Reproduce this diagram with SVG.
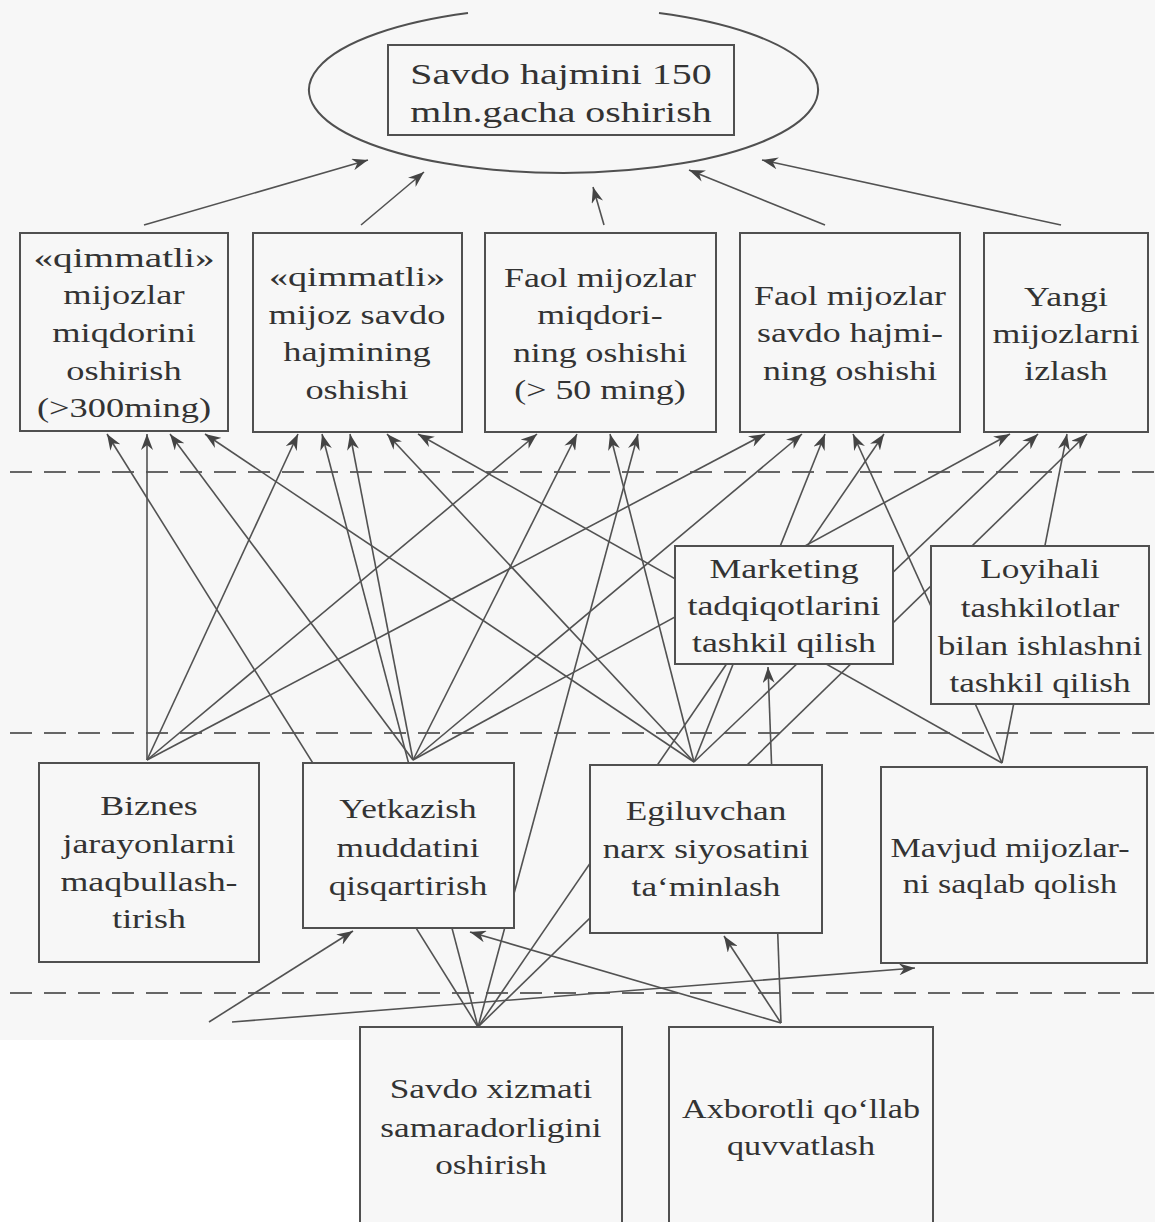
<svg xmlns="http://www.w3.org/2000/svg" width="1155" height="1222" viewBox="0 0 1155 1222">
  <style>
    .box { fill: #f7f7f7; stroke: #505050; stroke-width: 2; }
    .lbl { font-family: "Liberation Serif", "Times New Roman", serif; font-size: 28px; fill: #333333; text-anchor: middle; }
    .ttl { font-size: 30px; }
    .edge { stroke: #525252; stroke-width: 1.6; fill: none; marker-end: url(#arr); }
    .sep { stroke: #666; stroke-width: 2; stroke-dasharray: 22 12; fill: none; }
  </style>
  <defs>
    <marker id="arr" markerUnits="userSpaceOnUse" markerWidth="18" markerHeight="12" refX="16" refY="6" orient="auto">
      <path d="M0,0 L16,6 L0,12 L5,6 Z" fill="#444"/>
    </marker>
  </defs>

  <rect width="1155" height="1222" fill="#f7f7f7"/>
  <rect x="0" y="1040" width="360" height="182" fill="#ffffff"/>

  <!-- level separators -->
  <g id="separators">
    <line class="sep" x1="10" y1="472" x2="1155" y2="472"/>
    <line class="sep" x1="10" y1="733" x2="1155" y2="733"/>
    <line class="sep" x1="10" y1="993" x2="1155" y2="993"/>
  </g>

  <!-- connectors -->
  <g id="connectors">
    <!-- to the goal -->
    <line class="edge" x1="144" y1="225" x2="368" y2="160"/>
    <line class="edge" x1="361" y1="225" x2="424" y2="172"/>
    <line class="edge" x1="604" y1="225" x2="593" y2="187"/>
    <line class="edge" x1="825" y1="225" x2="689" y2="170"/>
    <line class="edge" x1="1061" y1="225" x2="762" y2="160"/>
    <!-- from Biznes jarayonlari -->
    <line class="edge" x1="147" y1="760" x2="147" y2="434"/>
    <line class="edge" x1="147" y1="760" x2="298" y2="434"/>
    <line class="edge" x1="147" y1="760" x2="537" y2="434"/>
    <line class="edge" x1="147" y1="760" x2="765" y2="434"/>
    <!-- from Yetkazish muddati -->
    <line class="edge" x1="413" y1="760" x2="170" y2="434"/>
    <line class="edge" x1="413" y1="760" x2="350" y2="434"/>
    <line class="edge" x1="413" y1="760" x2="577" y2="434"/>
    <line class="edge" x1="413" y1="760" x2="802" y2="434"/>
    <line class="edge" x1="413" y1="760" x2="1010" y2="434"/>
    <!-- from Egiluvchan narx -->
    <line class="edge" x1="694" y1="762" x2="205" y2="434"/>
    <line class="edge" x1="694" y1="762" x2="387" y2="434"/>
    <line class="edge" x1="694" y1="762" x2="610" y2="434"/>
    <line class="edge" x1="694" y1="762" x2="825" y2="434"/>
    <line class="edge" x1="694" y1="762" x2="1038" y2="434"/>
    <!-- from Mavjud mijozlar -->
    <line class="edge" x1="1002" y1="763" x2="418" y2="434"/>
    <line class="edge" x1="1002" y1="763" x2="853" y2="434"/>
    <line class="edge" x1="1002" y1="763" x2="1067" y2="434"/>
    <!-- from Savdo xizmati -->
    <line class="edge" x1="478" y1="1027" x2="107" y2="434"/>
    <line class="edge" x1="478" y1="1027" x2="322" y2="434"/>
    <line class="edge" x1="478" y1="1027" x2="638" y2="434"/>
    <line class="edge" x1="478" y1="1027" x2="884" y2="434"/>
    <line class="edge" x1="478" y1="1027" x2="1087" y2="434"/>
    <!-- from Axborotli qo'llab-quvvatlash -->
    <line class="edge" x1="781" y1="1023" x2="470" y2="932"/>
    <line class="edge" x1="781" y1="1023" x2="724" y2="936"/>
    <line class="edge" x1="781" y1="1023" x2="768" y2="667"/>
    <!-- incoming from the left margin -->
    <line class="edge" x1="209" y1="1022" x2="353" y2="931"/>
    <line class="edge" x1="232" y1="1022" x2="915" y2="968"/>
  </g>

  <!-- goal -->
  <g id="goal">
    <path d="M468,13 A254.5,83 0 1 0 659,13" fill="none" stroke="#505050" stroke-width="2"/>
    <rect class="box" x="388" y="45" width="346" height="90"/>
    <g transform="translate(561,0) scale(1.33,1)">
      <text class="lbl ttl" x="0" y="84">Savdo hajmini 150</text>
      <text class="lbl ttl" x="0" y="122">mln.gacha oshirish</text>
    </g>
  </g>

  <!-- customer-level objectives -->
  <g id="t1">
    <rect class="box" x="20" y="233" width="208" height="198"/>
    <g transform="translate(124,0) scale(1.3,1)">
      <text class="lbl" x="0" y="267" transform="scale(1.08,1)">«qimmatli»</text>
      <text class="lbl" x="0" y="304">mijozlar</text>
      <text class="lbl" x="0" y="342">miqdorini</text>
      <text class="lbl" x="0" y="380">oshirish</text>
      <text class="lbl" x="0" y="417">(&gt;300ming)</text>
    </g>
  </g>
  <g id="t2">
    <rect class="box" x="253" y="233" width="209" height="199"/>
    <g transform="translate(357,0) scale(1.3,1)">
      <text class="lbl" x="0" y="286" transform="scale(1.05,1)">«qimmatli»</text>
      <text class="lbl" x="0" y="324">mijoz savdo</text>
      <text class="lbl" x="0" y="361">hajmining</text>
      <text class="lbl" x="0" y="399">oshishi</text>
    </g>
  </g>
  <g id="t3">
    <rect class="box" x="485" y="233" width="231" height="199"/>
    <g transform="translate(600,0) scale(1.28,1)">
      <text class="lbl" x="0" y="287">Faol mijozlar</text>
      <text class="lbl" x="0" y="324">miqdori-</text>
      <text class="lbl" x="0" y="362">ning oshishi</text>
      <text class="lbl" x="0" y="399">(&gt; 50 ming)</text>
    </g>
  </g>
  <g id="t4">
    <rect class="box" x="740" y="233" width="220" height="199"/>
    <g transform="translate(850,0) scale(1.28,1)">
      <text class="lbl" x="0" y="305">Faol mijozlar</text>
      <text class="lbl" x="0" y="342">savdo hajmi-</text>
      <text class="lbl" x="0" y="380">ning oshishi</text>
    </g>
  </g>
  <g id="t5">
    <rect class="box" x="984" y="233" width="164" height="199"/>
    <g transform="translate(1066,0) scale(1.28,1)">
      <text class="lbl" x="0" y="306">Yangi</text>
      <text class="lbl" x="0" y="343">mijozlarni</text>
      <text class="lbl" x="0" y="380">izlash</text>
    </g>
  </g>

  <!-- intermediate level -->
  <g id="m1">
    <rect class="box" x="675" y="546" width="218" height="118"/>
    <g transform="translate(784,0) scale(1.28,1)">
      <text class="lbl" x="0" y="578">Marketing</text>
      <text class="lbl" x="0" y="615">tadqiqotlarini</text>
      <text class="lbl" x="0" y="652">tashkil qilish</text>
    </g>
  </g>
  <g id="m2">
    <rect class="box" x="931" y="546" width="218" height="158"/>
    <g transform="translate(1040,0) scale(1.26,1)">
      <text class="lbl" x="0" y="578">Loyihali</text>
      <text class="lbl" x="0" y="617">tashkilotlar</text>
      <text class="lbl" x="0" y="655">bilan ishlashni</text>
      <text class="lbl" x="0" y="692">tashkil qilish</text>
    </g>
  </g>

  <!-- process level -->
  <g id="b1">
    <rect class="box" x="39" y="763" width="220" height="199"/>
    <g transform="translate(149,0) scale(1.28,1)">
      <text class="lbl" x="0" y="815">Biznes</text>
      <text class="lbl" x="0" y="853">jarayonlarni</text>
      <text class="lbl" x="0" y="891">maqbullash-</text>
      <text class="lbl" x="0" y="928">tirish</text>
    </g>
  </g>
  <g id="b2">
    <rect class="box" x="303" y="763" width="211" height="165"/>
    <g transform="translate(408,0) scale(1.26,1)">
      <text class="lbl" x="0" y="818">Yetkazish</text>
      <text class="lbl" x="0" y="857">muddatini</text>
      <text class="lbl" x="0" y="895">qisqartirish</text>
    </g>
  </g>
  <g id="b3">
    <rect class="box" x="590" y="765" width="232" height="168"/>
    <g transform="translate(706,0) scale(1.26,1)">
      <text class="lbl" x="0" y="820">Egiluvchan</text>
      <text class="lbl" x="0" y="858">narx siyosatini</text>
      <text class="lbl" x="0" y="896">ta‘minlash</text>
    </g>
  </g>
  <g id="b4">
    <rect class="box" x="881" y="767" width="266" height="196"/>
    <g transform="translate(1010,0) scale(1.22,1)">
      <text class="lbl" x="0" y="857">Mavjud mijozlar-</text>
      <text class="lbl" x="0" y="893">ni saqlab qolish</text>
    </g>
  </g>

  <!-- capability level -->
  <g id="c1">
    <rect class="box" x="360" y="1027" width="262" height="215"/>
    <g transform="translate(491,0) scale(1.26,1)">
      <text class="lbl" x="0" y="1098">Savdo xizmati</text>
      <text class="lbl" x="0" y="1137">samaradorligini</text>
      <text class="lbl" x="0" y="1174">oshirish</text>
    </g>
  </g>
  <g id="c2">
    <rect class="box" x="669" y="1027" width="264" height="215"/>
    <g transform="translate(801,0) scale(1.22,1)">
      <text class="lbl" x="0" y="1118">Axborotli qo‘llab</text>
      <text class="lbl" x="0" y="1155">quvvatlash</text>
    </g>
  </g>
</svg>
